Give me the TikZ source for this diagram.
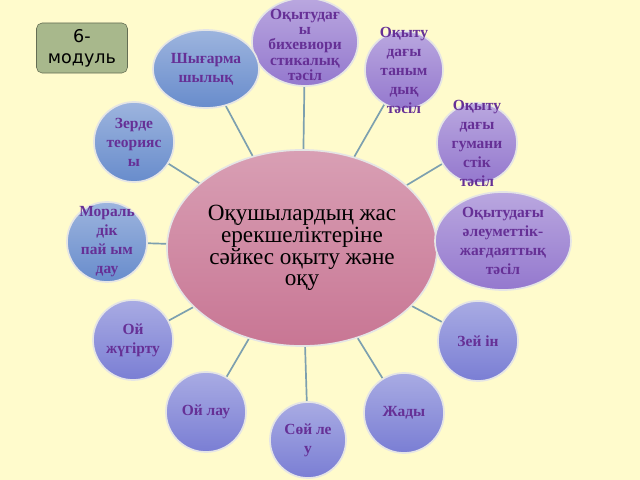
\documentclass[tikz,border=0pt]{standalone}
\usepackage{fontspec}
\setmainfont{Liberation Serif}
\newfontfamily\modfont{DejaVu Sans}
\usepackage{tikz}
\usetikzlibrary{shapes.geometric, backgrounds}

\definecolor{bgyellow}{RGB}{255,251,204}
\definecolor{nodeblue}{RGB}{104,140,204}
\definecolor{nodeviolet}{RGB}{122,126,212}
\definecolor{nodepurple}{RGB}{148,120,206}
\definecolor{centrepink}{RGB}{200,118,148}
\definecolor{textpurple}{RGB}{102,48,150}
\definecolor{linkteal}{RGB}{125,160,175}
\definecolor{modgreen}{RGB}{168,184,140}

\begin{document}
\begin{tikzpicture}[x=0.025cm, y=0.025cm,
    bubble/.style={circle, minimum size=2cm, inner sep=0pt,
        draw=white!80!gray, line width=1.2pt},
    blueb/.style={bubble, top color=nodeblue!65!white, bottom color=nodeblue},
    violetb/.style={bubble, top color=nodeviolet!65!white, bottom color=nodeviolet},
    purpleb/.style={bubble, top color=nodepurple!65!white, bottom color=nodepurple},
    txt/.style={text=textpurple, align=center,
        font=\bfseries\fontsize{11}{13.5}\selectfont},
    spoke/.style={draw=linkteal, line width=1.2pt}]

    \useasboundingbox (0,0) rectangle (640,480);

    % Module label in the corner
    \node[draw=modgreen!60!black, fill=modgreen, rounded corners=4pt,
          minimum width=2.275cm, minimum height=1.25cm, align=center,
          font=\modfont\fontsize{12.5}{15}\selectfont] (module) at (82,432)
          {6-\\модуль};

    % Central ellipse
    \node[ellipse, minimum width=6.75cm, minimum height=4.9cm, inner sep=0pt,
          top color=centrepink!70!white, bottom color=centrepink,
          draw=white!80!gray, line width=1.2pt, align=center,
          font=\fontsize{16.5}{15.5}\selectfont] (centre) at (302,232)
          {Оқушылардың жас\\ерекшеліктеріне\\сәйкес оқыту және\\оқу};

    % Bubbles round the centre, clockwise from the top
    \node[purpleb, ellipse, minimum width=2.65cm, minimum height=2.2cm,
          label={[txt, font=\bfseries\fontsize{11}{10.8}\selectfont,
                  yshift=-2pt]center:{Оқытудағ\\ы\\бихевиори\\стикалық\\тәсіл}}]
          (behav) at (305,438) {};
    \node[purpleb, minimum size=1.95cm,
          label={[txt]center:{Оқыту\\дағы\\таным\\дық\\тәсіл}}]
          (tanym) at (404,410) {};
    \node[purpleb,
          label={[txt]center:{Оқыту\\дағы\\гумани\\стік\\тәсіл}}]
          (guman) at (477,337) {};
    \node[purpleb, ellipse, minimum width=3.4cm, minimum height=2.45cm,
          label={[txt]center:{Оқытудағы\\әлеуметтік-\\жағдаяттық\\тәсіл}}]
          (aleum) at (503,239) {};
    \node[violetb, label={[txt]center:{Зей ін}}] (zeyin) at (478,139) {};
    \node[violetb, label={[txt]center:{Жады}}] (zhady) at (404,67) {};
    \node[violetb, minimum size=1.9cm,
          label={[txt]center:{Сөй ле\\у}}] (soyleu) at (308,40) {};
    \node[violetb, label={[txt]center:{Ой лау}}] (oylau) at (206,68) {};
    \node[violetb, label={[txt]center:{Ой\\жүгірту}}] (zhugirtu) at (133,140) {};
    \node[blueb, label={[txt]center:{Мораль\\дік\\пай ым\\дау}}] (moral) at (107,238) {};
    \node[blueb, label={[txt]center:{Зерде\\теорияс\\ы}}] (zerde) at (134,338) {};
    \node[blueb, ellipse, minimum width=2.65cm, minimum height=1.95cm,
          label={[txt]center:{Шығарма\\шылық}}] (shygarma) at (206,411) {};

    % Background and spokes behind the bubbles
    \begin{scope}[on background layer]
        \fill[bgyellow] (0,0) rectangle (640,480);
        \foreach \s in {behav, tanym, guman, aleum, zeyin, zhady,
                        soyleu, oylau, zhugirtu, moral, zerde, shygarma}
            \draw[spoke] (centre) -- (\s);
    \end{scope}

\end{tikzpicture}
\end{document}
